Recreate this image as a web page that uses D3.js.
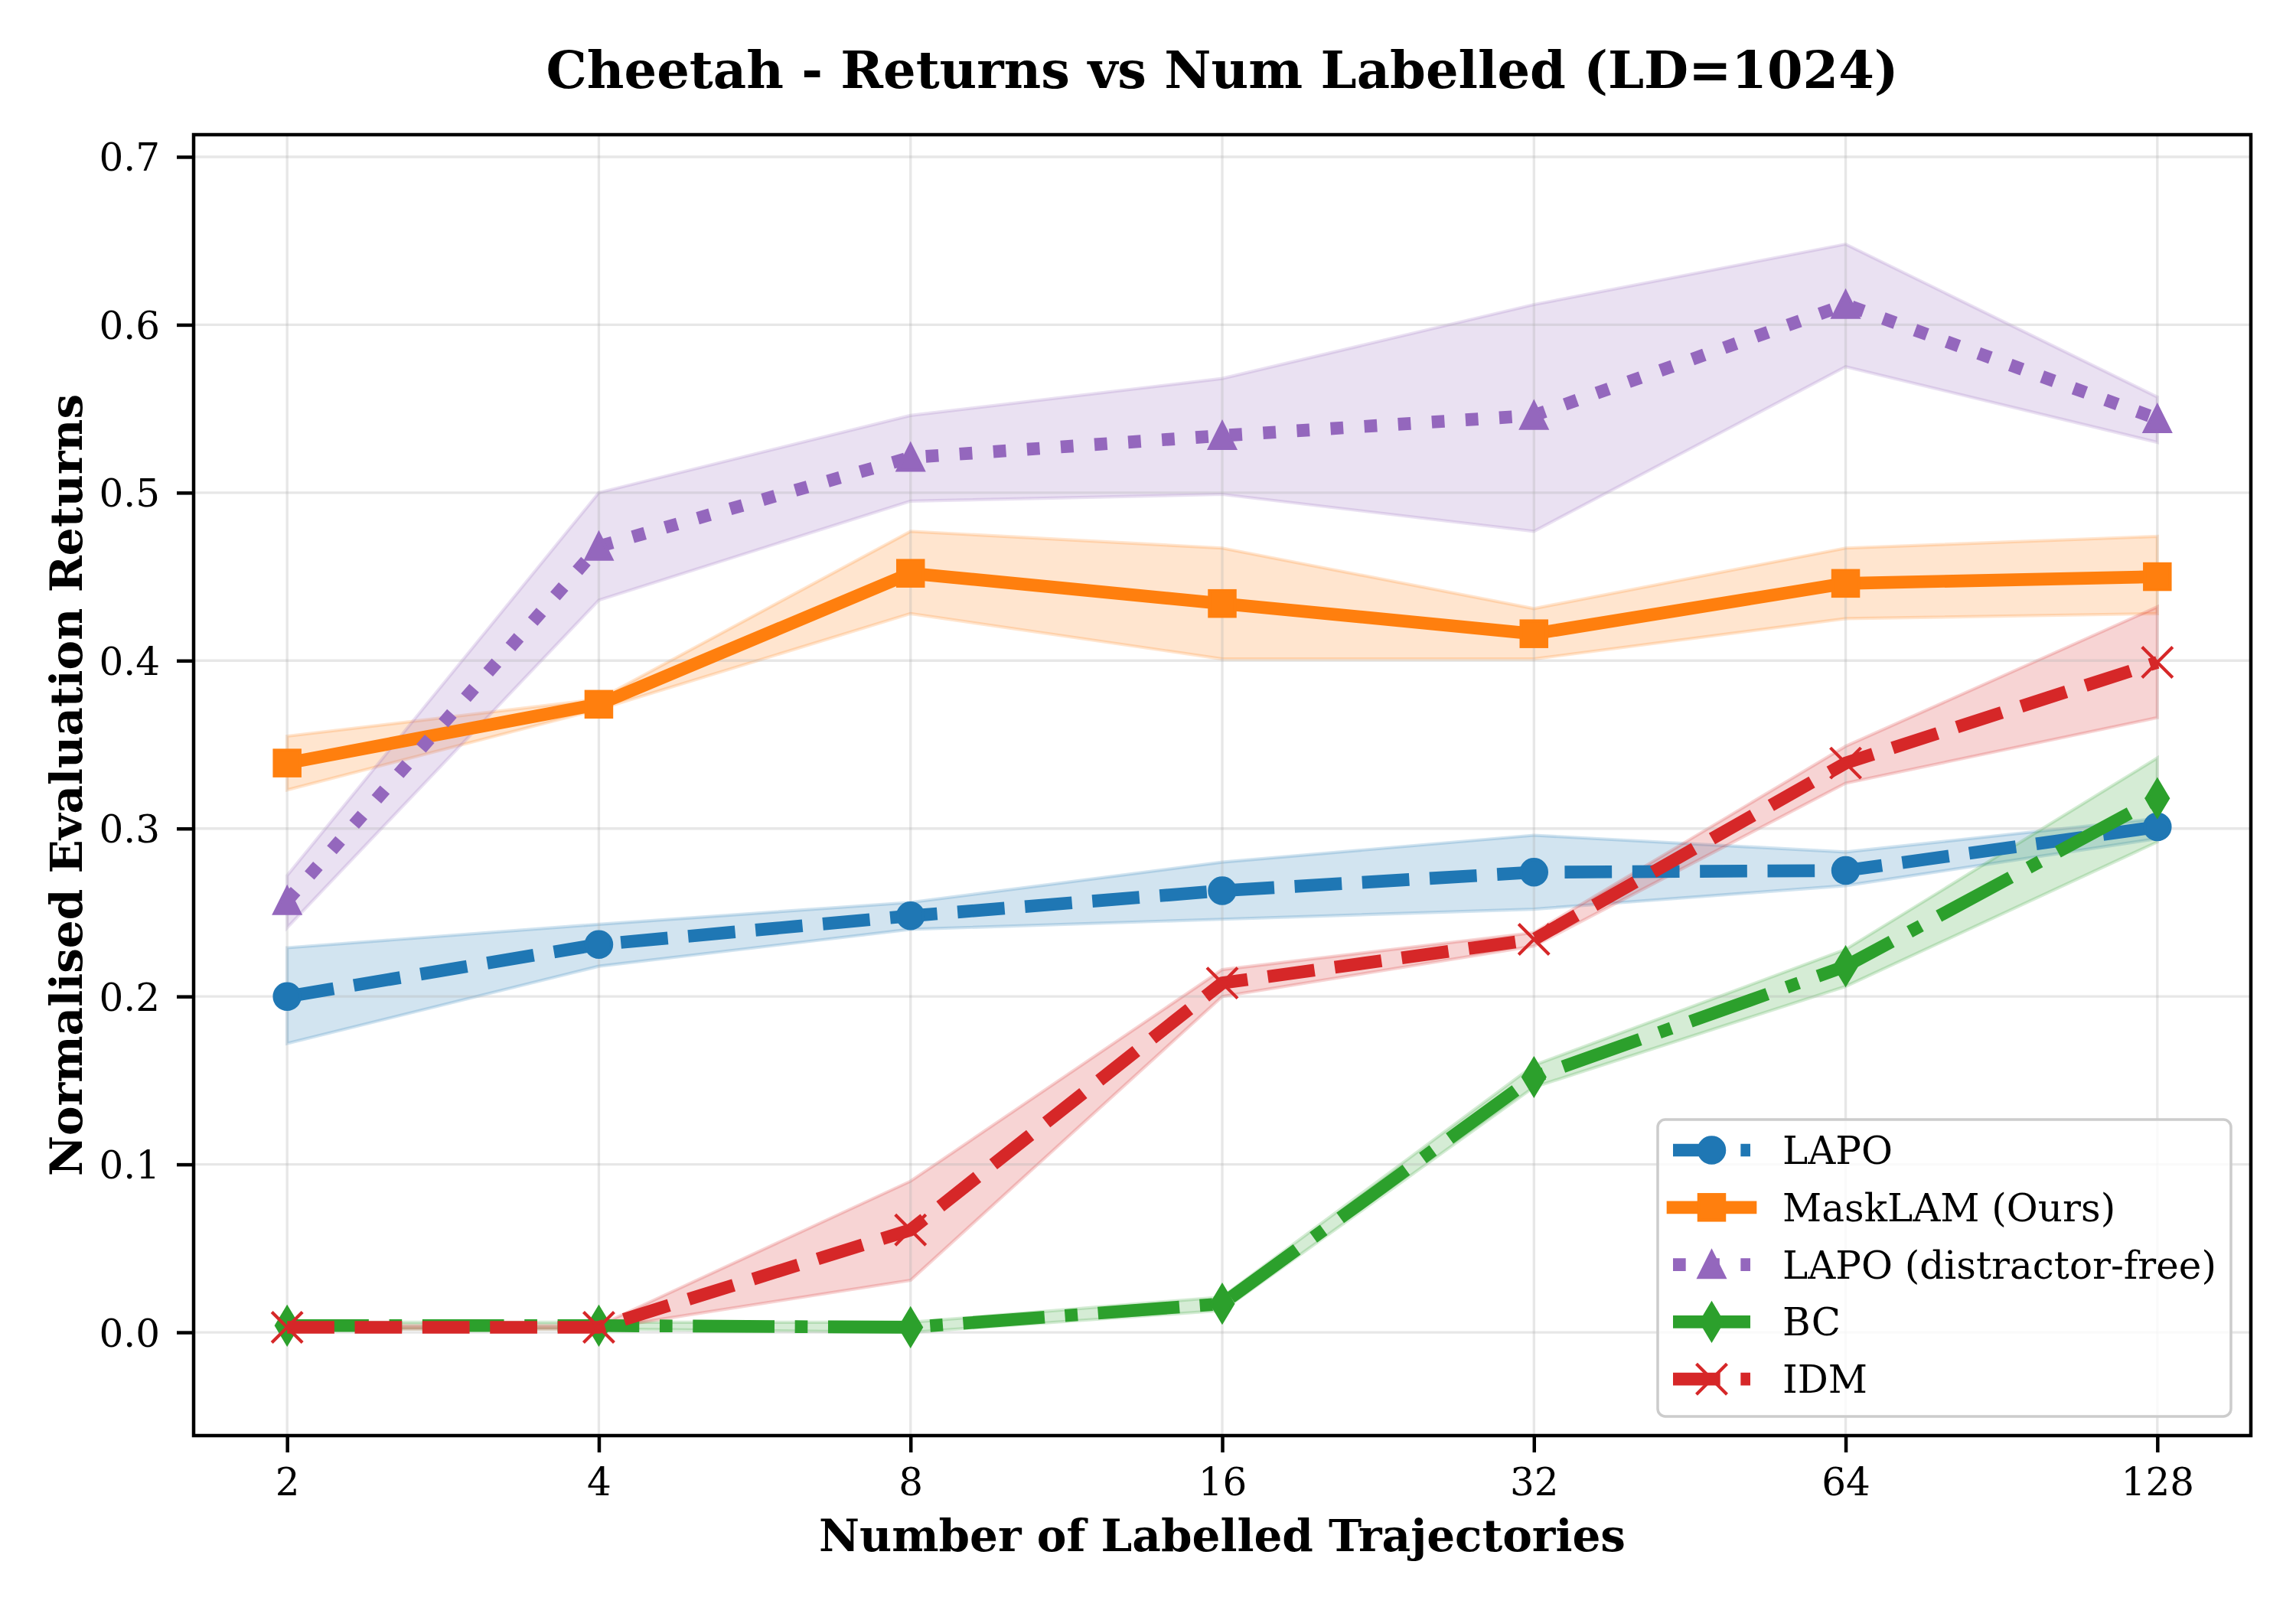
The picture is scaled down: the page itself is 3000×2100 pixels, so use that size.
<!DOCTYPE html>
<html>
<head>
<meta charset="utf-8">
<script src="https://cdn.jsdelivr.net/npm/d3@7"></script>
<style>
  html, body { margin: 0; padding: 0; background: #fff; }
  svg { display: block; }
  text { font-family: "DejaVu Serif", serif; fill: #000; }
</style>
</head>
<body>
<svg id="chart" width="3000" height="2100"></svg>
<script>
// ---------------- DATA ----------------
const xVals = [2, 4, 8, 16, 32, 64, 128];
const xTickLabels = ["2", "4", "8", "16", "32", "64", "128"];
const yTicks = [0.0, 0.1, 0.2, 0.3, 0.4, 0.5, 0.6, 0.7];

const seriesNames = ["LAPO", "MaskLAM (Ours)", "LAPO (distractor-free)", "BC", "IDM"];

const lapoMean = [0.200, 0.231, 0.248, 0.263, 0.274, 0.275, 0.301];
const lapoLo   = [0.172, 0.218, 0.240, 0.246, 0.252, 0.266, 0.294];
const lapoHi   = [0.229, 0.243, 0.256, 0.280, 0.296, 0.286, 0.306];

const maskMean = [0.339, 0.374, 0.452, 0.434, 0.416, 0.446, 0.450];
const maskLo   = [0.323, 0.371, 0.428, 0.401, 0.401, 0.425, 0.428];
const maskHi   = [0.355, 0.377, 0.477, 0.467, 0.431, 0.467, 0.474];

const dfMean = [0.257, 0.468, 0.521, 0.534, 0.546, 0.612, 0.544];
const dfLo   = [0.241, 0.436, 0.495, 0.499, 0.477, 0.575, 0.530];
const dfHi   = [0.272, 0.500, 0.546, 0.568, 0.612, 0.648, 0.557];

const bcMean = [0.004, 0.004, 0.003, 0.017, 0.152, 0.218, 0.318];
const bcLo   = [0.002, 0.002, 0.000, 0.013, 0.146, 0.206, 0.292];
const bcHi   = [0.006, 0.006, 0.006, 0.021, 0.159, 0.228, 0.342];

const idmMean = [0.003, 0.003, 0.061, 0.208, 0.234, 0.339, 0.399];
const idmLo   = [0.002, 0.002, 0.031, 0.200, 0.230, 0.327, 0.366];
const idmHi   = [0.004, 0.004, 0.090, 0.216, 0.238, 0.349, 0.432];

// ---------------- STYLE ----------------
const LW = 16.67;          // 4pt at 300dpi
const MS = 33.33;          // markersize 8pt
const MEW = 4.17;          // marker edge width 1pt
const XHALF = 20;          // half-size of 'x' marker
const dashStyles = {
  dashed: [3.7 * LW, 1.6 * LW],
  dotted: [1 * LW, 1.65 * LW],
  dashdot: [6.4 * LW, 1.6 * LW, 1 * LW, 1.6 * LW],
  solid: null
};

const series = [
  { name: seriesNames[0], mean: lapoMean, lo: lapoLo, hi: lapoHi, color: "#1f77b4", dash: "dashed", marker: "circle" },
  { name: seriesNames[1], mean: maskMean, lo: maskLo, hi: maskHi, color: "#ff7f0e", dash: "solid", marker: "square" },
  { name: seriesNames[2], mean: dfMean, lo: dfLo, hi: dfHi, color: "#9467bd", dash: "dotted", marker: "triangle" },
  { name: seriesNames[3], mean: bcMean, lo: bcLo, hi: bcHi, color: "#2ca02c", dash: "dashdot", marker: "thindiamond" },
  { name: seriesNames[4], mean: idmMean, lo: idmLo, hi: idmHi, color: "#d62728", dash: "dashed", marker: "x" }
];

// ---------------- LAYOUT ----------------
const plot = { left: 253, right: 2941, top: 176, bottom: 1876 };

const x = d3.scaleLog().base(2)
  .domain([Math.pow(2, 0.7), Math.pow(2, 7.3)])
  .range([plot.left, plot.right]);
const y = d3.scaleLinear()
  .domain([-0.0615, 0.7132])
  .range([plot.bottom, plot.top]);

const svg = d3.select("#chart");
svg.append("rect").attr("width", 3000).attr("height", 2100).attr("fill", "#fff");

const defs = svg.append("defs");
defs.append("clipPath").attr("id", "plotclip")
  .append("rect")
  .attr("x", plot.left).attr("y", plot.top)
  .attr("width", plot.right - plot.left).attr("height", plot.bottom - plot.top);

const plotG = svg.append("g").attr("clip-path", "url(#plotclip)");

// --- fills (zorder 1) ---
const area = d3.area()
  .x((d, i) => x(xVals[i]))
  .y0(d => y(d[0]))
  .y1(d => y(d[1]));

series.forEach(s => {
  const pts = s.lo.map((v, i) => [v, s.hi[i]]);
  plotG.append("path")
    .attr("d", area(pts))
    .attr("fill", s.color)
    .attr("fill-opacity", 0.2)
    .attr("stroke", s.color)
    .attr("stroke-opacity", 0.2)
    .attr("stroke-width", 4.17);
});

// --- grid (zorder 1.5) ---
const gridG = plotG.append("g");
yTicks.forEach(t => {
  gridG.append("line")
    .attr("x1", plot.left).attr("x2", plot.right)
    .attr("y1", y(t)).attr("y2", y(t))
    .attr("stroke", "#b0b0b0").attr("stroke-opacity", 0.3).attr("stroke-width", 3.33);
});
xVals.forEach(t => {
  gridG.append("line")
    .attr("y1", plot.top).attr("y2", plot.bottom)
    .attr("x1", x(t)).attr("x2", x(t))
    .attr("stroke", "#b0b0b0").attr("stroke-opacity", 0.3).attr("stroke-width", 3.33);
});

// --- marker drawing ---
function drawMarker(g, type, cx, cy, color) {
  const h = MS / 2;
  if (type === "circle") {
    g.append("circle").attr("cx", cx).attr("cy", cy).attr("r", h)
      .attr("fill", color).attr("stroke", color).attr("stroke-width", MEW);
  } else if (type === "square") {
    g.append("rect").attr("x", cx - h).attr("y", cy - h).attr("width", MS).attr("height", MS)
      .attr("fill", color).attr("stroke", color).attr("stroke-width", MEW).attr("stroke-linejoin", "miter");
  } else if (type === "triangle") {
    g.append("path")
      .attr("d", `M${cx},${cy - h}L${cx - h},${cy + h}L${cx + h},${cy + h}Z`)
      .attr("fill", color).attr("stroke", color).attr("stroke-width", MEW).attr("stroke-linejoin", "miter");
  } else if (type === "thindiamond") {
    const dy = MS * Math.SQRT1_2, dx = 0.6 * MS * Math.SQRT1_2;
    g.append("path")
      .attr("d", `M${cx},${cy - dy}L${cx + dx},${cy}L${cx},${cy + dy}L${cx - dx},${cy}Z`)
      .attr("fill", color).attr("stroke", color).attr("stroke-width", MEW).attr("stroke-linejoin", "miter");
  } else if (type === "x") {
    const k = XHALF;
    g.append("path")
      .attr("d", `M${cx - k},${cy - k}L${cx + k},${cy + k}M${cx - k},${cy + k}L${cx + k},${cy - k}`)
      .attr("fill", "none").attr("stroke", color).attr("stroke-width", MEW).attr("stroke-linecap", "butt");
  }
}

// --- lines + markers (zorder 2) ---
const line = d3.line()
  .x((d, i) => x(xVals[i]))
  .y(d => y(d));

series.forEach(s => {
  const p = plotG.append("path")
    .attr("d", line(s.mean))
    .attr("fill", "none")
    .attr("stroke", s.color)
    .attr("stroke-width", LW)
    .attr("stroke-linejoin", "round")
    .attr("stroke-linecap", s.dash === "solid" ? "square" : "butt");
  if (dashStyles[s.dash]) p.attr("stroke-dasharray", dashStyles[s.dash].join(","));
  const mg = plotG.append("g");
  s.mean.forEach((v, i) => drawMarker(mg, s.marker, x(xVals[i]), y(v), s.color));
});

// --- spines ---
svg.append("rect")
  .attr("x", plot.left).attr("y", plot.top)
  .attr("width", plot.right - plot.left).attr("height", plot.bottom - plot.top)
  .attr("fill", "none").attr("stroke", "#000").attr("stroke-width", 4.5);

// --- axes ticks ---
const TICKLEN = 22;
const xAxis = d3.axisBottom(x)
  .tickValues(xVals)
  .tickFormat((d, i) => xTickLabels[i])
  .tickSize(TICKLEN)
  .tickPadding(12);
const xg = svg.append("g").attr("transform", `translate(0,${plot.bottom})`).call(xAxis);
xg.select(".domain").remove();
xg.selectAll(".tick line").attr("stroke", "#000").attr("stroke-width", 4.5);
xg.selectAll(".tick text")
  .attr("font-family", "DejaVu Serif").attr("font-size", 50).attr("fill", "#000")
  .attr("dy", null).attr("y", 78);

const yAxis = d3.axisLeft(y)
  .tickValues(yTicks)
  .tickFormat(d3.format(".1f"))
  .tickSize(TICKLEN)
  .tickPadding(20);
const yg = svg.append("g").attr("transform", `translate(${plot.left},0)`).call(yAxis);
yg.select(".domain").remove();
yg.selectAll(".tick line").attr("stroke", "#000").attr("stroke-width", 4.5);
yg.selectAll(".tick text")
  .attr("font-family", "DejaVu Serif").attr("font-size", 50).attr("fill", "#000")
  .attr("x", -44).attr("dy", "0.36em");

// --- labels ---
const cxPlot = (plot.left + plot.right) / 2;
const cyPlot = (plot.top + plot.bottom) / 2;
svg.append("text")
  .attr("x", cxPlot).attr("y", 115)
  .attr("text-anchor", "middle")
  .attr("font-size", 67).attr("font-weight", "bold")
  .text("Cheetah - Returns vs Num Labelled (LD=1024)");

svg.append("text")
  .attr("x", cxPlot).attr("y", 2027)
  .attr("text-anchor", "middle")
  .attr("font-size", 58).attr("font-weight", "bold")
  .text("Number of Labelled Trajectories");

svg.append("text")
  .attr("transform", `translate(107,${cyPlot}) rotate(-90)`)
  .attr("text-anchor", "middle")
  .attr("font-size", 58).attr("font-weight", "bold")
  .text("Normalised Evaluation Returns");

// --- legend ---
const leg = { x: 2166, y: 1463, w: 749, h: 388, rowY0: 1503, rowStep: 74.8 };
const lg = svg.append("g");
lg.append("rect")
  .attr("x", leg.x).attr("y", leg.y).attr("width", leg.w).attr("height", leg.h)
  .attr("rx", 10).attr("ry", 10)
  .attr("fill", "#fff").attr("fill-opacity", 0.8)
  .attr("stroke", "#cccccc").attr("stroke-width", 3.5);

series.forEach((s, i) => {
  const cy = leg.rowY0 + i * leg.rowStep;
  const x0 = 2186, x1 = 2287, xm = (x0 + x1) / 2;
  const p = lg.append("path")
    .attr("d", `M${x0},${cy}L${x1},${cy}`)
    .attr("fill", "none").attr("stroke", s.color).attr("stroke-width", LW)
    .attr("stroke-linecap", s.dash === "solid" ? "square" : "butt");
  if (dashStyles[s.dash]) p.attr("stroke-dasharray", dashStyles[s.dash].join(","));
  drawMarker(lg, s.marker, xm, cy, s.color);
  lg.append("text")
    .attr("x", 2329).attr("y", cy + 18)
    .attr("font-size", 50)
    .text(s.name);
});
</script>
</body>
</html>
